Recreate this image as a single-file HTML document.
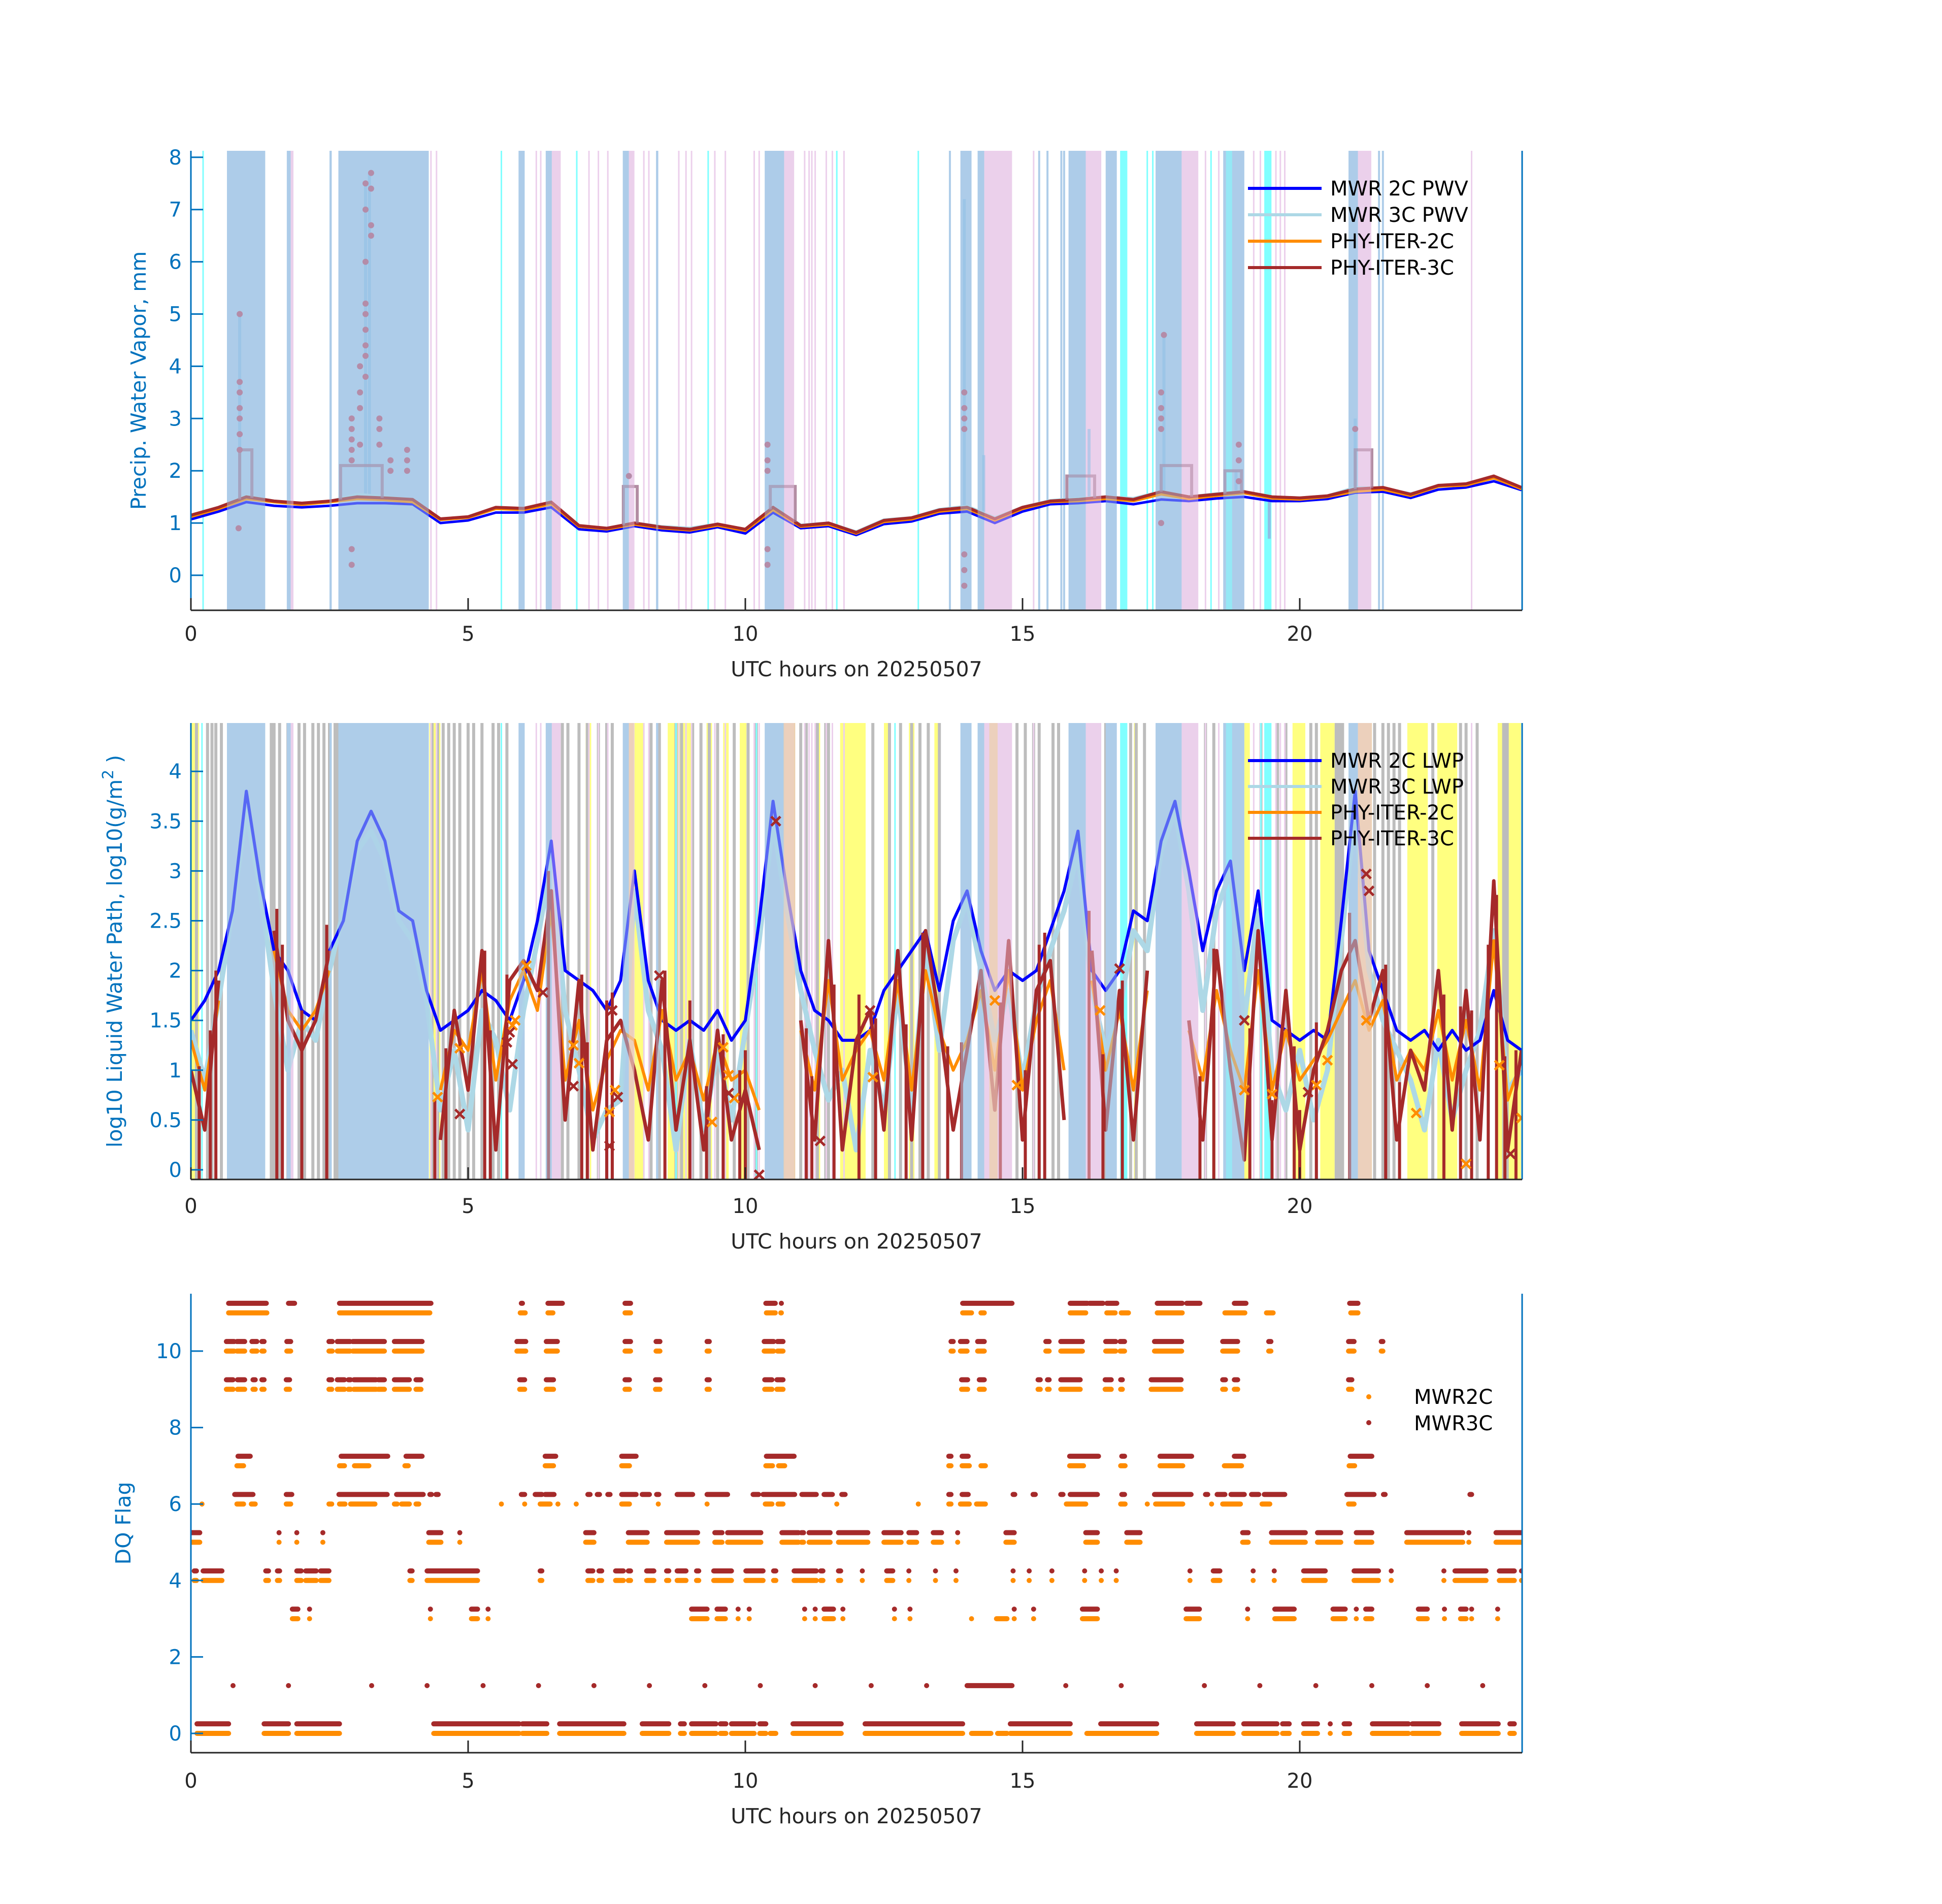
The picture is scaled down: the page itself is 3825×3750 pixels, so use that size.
<!DOCTYPE html>
<html>
<head>
<meta charset="utf-8">
<title>MWR PWV / LWP / DQ Flag 20250507</title>
<style>
  html, body { margin:0; padding:0; background:#ffffff; }
  svg { display:block; }
  text { font-family: "DejaVu Sans", "Liberation Sans", sans-serif; }
</style>
</head>
<body>
<svg id="fig" xmlns="http://www.w3.org/2000/svg" width="3825" height="3750" viewBox="0 0 3825 3750">
  <defs>
    <clipPath id="clip1"><rect x="376" y="297" width="2622" height="905"/></clipPath>
    <clipPath id="clip2"><rect x="376" y="1424" width="2622" height="899"/></clipPath>
    <clipPath id="clip3"><rect x="376" y="2548" width="2622" height="904"/></clipPath>
  </defs>
  <rect x="0" y="0" width="3825" height="3750" fill="#ffffff"/>
  <g id="p1"></g>
  <g id="p2"></g>
  <g id="p3"></g>
</svg>
<script>
// ================= DATA =================
// ---- Panel 1 : PWV (0.5 h grid) ----
const pwvHours = [0,0.5,1,1.5,2,2.5,3,3.5,4,4.5,5,5.5,6,6.5,7,7.5,8,8.5,9,9.5,10,10.5,11,11.5,12,12.5,13,13.5,14,14.5,15,15.5,16,16.5,17,17.5,18,18.5,19,19.5,20,20.5,21,21.5,22,22.5,23,23.5,24];
const pwvMwr2C = [1.07,1.22,1.4,1.33,1.3,1.33,1.38,1.38,1.36,1.0,1.05,1.2,1.2,1.3,0.88,0.84,0.94,0.86,0.82,0.92,0.8,1.2,0.9,0.94,0.77,0.98,1.03,1.18,1.22,1.0,1.22,1.36,1.38,1.42,1.36,1.45,1.42,1.47,1.5,1.42,1.42,1.46,1.58,1.6,1.48,1.64,1.68,1.8,1.63];
const pwvMwr3C = [1.13,1.28,1.52,1.42,1.37,1.41,1.55,1.5,1.45,1.06,1.12,1.28,1.27,1.38,0.94,0.9,1.0,0.93,0.9,0.98,0.87,1.3,0.96,1.0,0.83,1.06,1.1,1.26,1.32,1.1,1.3,1.43,1.47,1.5,1.47,1.6,1.5,1.56,1.6,1.5,1.48,1.52,1.68,1.66,1.56,1.7,1.74,1.86,1.67];
const pwvPhy2C = [1.12,1.27,1.46,1.4,1.35,1.4,1.46,1.44,1.4,1.06,1.1,1.27,1.25,1.36,0.93,0.88,0.97,0.9,0.86,0.95,0.85,1.25,0.93,0.97,0.8,1.02,1.07,1.22,1.27,1.05,1.27,1.4,1.42,1.46,1.42,1.55,1.46,1.52,1.57,1.47,1.45,1.5,1.6,1.64,1.52,1.7,1.72,1.86,1.65];
const pwvPhy3C = [1.15,1.3,1.5,1.42,1.38,1.42,1.5,1.48,1.45,1.08,1.12,1.3,1.28,1.4,0.95,0.9,1.0,0.92,0.88,0.98,0.88,1.3,0.95,1.0,0.82,1.05,1.1,1.25,1.3,1.08,1.3,1.42,1.45,1.5,1.45,1.6,1.5,1.55,1.6,1.5,1.48,1.52,1.65,1.68,1.55,1.72,1.75,1.9,1.68];
const pwvSpikeHours = [0.88,3.15,3.22,13.95,14.3,16.2,17.55,18.85,21.0,19.45];
const pwvSpikeValues = [5.0,7.5,7.7,7.2,2.3,2.8,4.6,2.0,3.0,0.7];
const pwvDotHours = [0.88,0.88,0.88,0.88,0.88,0.88,0.88,0.86,2.9,2.9,2.9,2.9,2.9,2.9,2.9,3.05,3.05,3.05,3.05,3.15,3.15,3.15,3.15,3.15,3.15,3.15,3.15,3.15,3.25,3.25,3.25,3.25,3.4,3.4,3.4,3.6,3.6,3.9,3.9,3.9,7.9,10.4,10.4,10.4,10.4,10.4,13.95,13.95,13.95,13.95,13.95,13.95,13.95,17.5,17.5,17.5,17.5,17.5,17.55,18.9,18.9,18.9,21.0];
const pwvDotValues = [5.0,3.7,3.5,3.2,3.0,2.7,2.4,0.9,3.0,2.8,2.6,2.4,2.2,0.5,0.2,4.0,3.5,3.2,2.5,5.2,5.0,4.7,4.4,4.2,3.8,7.5,7.0,6.0,7.7,7.4,6.7,6.5,3.0,2.8,2.5,2.2,2.0,2.4,2.2,2.0,1.9,2.5,2.2,2.0,0.5,0.2,3.5,3.2,3.0,2.8,-0.2,0.1,0.4,3.5,3.2,3.0,2.8,1.0,4.6,2.5,2.2,1.8,2.8];
const pwvStepStart = [0.88,2.7,7.8,10.45,15.8,17.5,18.65,21.0];
const pwvStepEnd = [1.1,3.45,8.05,10.9,16.3,18.05,18.95,21.3];
const pwvStepValues = [2.4,2.1,1.7,1.7,1.9,2.1,2.0,2.4];
// shading (hours)
const p1BlueBands = [[0.65,1.34],[1.73,1.8],[2.5,2.54],[2.66,4.29],[5.91,6.02],[6.4,6.51],[7.79,7.9],[8.39,8.43],[10.35,10.7],[13.88,14.08],[14.19,14.31],[15.83,16.14],[16.5,16.7],[17.4,17.87],[18.62,19.0],[20.88,21.05]];
const p1PinkBands = [[1.8,1.85],[6.51,6.67],[7.9,8.0],[10.7,10.88],[14.31,14.81],[16.14,16.42],[17.87,18.17],[21.05,21.29]];
const p1CyanBands = [[16.76,16.89],[18.67,18.78],[19.36,19.49]];
const p1PinkLines = [4.33,4.43,6.23,6.31,7.18,7.35,7.52,8.17,8.26,8.8,8.93,9.03,9.45,9.64,10.16,10.25,11.07,11.15,11.2,11.26,11.46,11.57,11.78,15.2,18.3,18.54,19.17,19.29,19.57,19.65,19.73,23.1];
const p1CyanLines = [0.22,5.6,6.0,6.96,9.33,11.65,13.12,16.55,17.25,17.35,18.4];
const p1BlueLines = [13.69,15.3,15.45,15.7,15.75,21.43,21.5];

// ---- Panel 2 : LWP (0.25 h grid) ----
const lwpHours = [];
for (let i = 0; i <= 96; i++) lwpHours.push(i * 0.25);
const lwpMwr2C = [1.5,1.7,2.0,2.6,3.8,2.9,2.2,2.0,1.6,1.5,2.2,2.5,3.3,3.6,3.3,2.6,2.5,1.8,1.4,1.5,1.6,1.8,1.7,1.5,1.9,2.5,3.3,2.0,1.9,1.8,1.6,1.9,3.0,1.9,1.5,1.4,1.5,1.4,1.6,1.3,1.5,2.5,3.7,2.8,2.0,1.6,1.5,1.3,1.3,1.4,1.8,2.0,2.2,2.4,1.8,2.5,2.8,2.2,1.8,2.0,1.9,2.0,2.4,2.8,3.4,2.0,1.8,2.0,2.6,2.5,3.3,3.7,3.0,2.2,2.8,3.1,2.0,2.8,1.5,1.4,1.3,1.4,1.3,2.5,3.8,2.2,1.8,1.4,1.3,1.4,1.2,1.4,1.2,1.3,1.8,1.3,1.2];
const lwpMwr3C = [1.4,0.9,1.7,2.6,3.6,2.8,1.8,1.0,1.5,1.3,2.0,2.6,3.2,3.4,3.1,2.5,2.3,1.7,0.6,1.2,0.4,1.6,1.3,0.6,1.6,2.3,3.1,1.6,1.0,0.3,0.6,0.7,2.8,1.6,1.2,0.2,1.3,0.4,1.2,0.5,1.4,2.3,3.5,2.6,1.8,1.2,0.7,1.0,0.2,1.2,0.6,1.8,0.6,2.2,1.2,2.3,2.7,2.0,1.3,1.8,0.9,1.7,2.2,2.6,3.2,1.8,1.2,1.6,2.4,2.2,3.2,3.6,2.8,1.6,2.6,3.0,1.5,2.6,1.0,0.6,1.2,0.5,1.0,2.3,3.6,2.0,1.5,1.2,0.9,0.4,1.3,0.5,1.0,1.4,2.4,0.8,1.0];
const lwpPhy2C = [1.3,0.8,1.7,null,null,null,2.2,1.6,1.4,1.6,2.0,null,null,null,null,null,null,null,0.8,1.4,1.2,2.0,0.9,1.7,2.0,1.6,2.6,0.9,1.5,0.6,1.1,1.4,1.3,0.8,1.6,0.9,1.2,0.7,1.3,0.9,1.0,0.6,null,null,1.4,0.8,1.9,0.9,1.2,1.4,0.9,1.9,0.8,2.0,1.4,1.0,1.3,1.8,1.0,2.0,0.8,1.5,1.9,1.0,null,1.9,1.0,1.6,0.8,1.8,null,null,1.4,0.9,1.8,1.2,0.8,2.0,0.8,1.4,0.9,1.1,1.3,1.6,1.9,1.4,1.7,0.9,1.2,1.0,1.6,0.9,1.5,0.8,2.3,0.7,1.1];
const lwpPhy3C = [1.0,0.4,1.9,null,null,null,2.4,1.5,1.2,1.5,2.2,null,null,null,null,null,null,null,0.3,1.6,0.8,2.2,0.2,1.9,2.1,1.8,2.8,0.5,1.9,0.2,1.3,1.5,1.0,0.3,1.9,0.4,1.3,0.2,1.4,0.3,0.8,0.2,null,null,1.5,0.3,2.3,0.2,1.3,1.6,0.4,2.2,0.3,2.4,1.5,0.4,1.2,2.0,0.6,2.3,0.3,1.8,2.1,0.5,null,2.2,0.4,1.8,0.3,2.0,null,null,1.5,0.3,2.2,1.0,0.1,2.4,0.3,1.8,0.2,1.0,1.4,2.0,2.3,1.5,2.0,0.3,1.2,0.8,2.0,0.4,1.8,0.3,2.9,0.2,1.2];
const lwpDropHours = [0.15,0.35,0.45,1.55,1.65,2.0,2.45,4.4,4.6,5.3,5.4,5.7,6.45,7.05,7.15,7.5,7.6,8.55,9.0,9.3,9.6,9.9,10.0,11.1,11.2,11.6,12.05,12.35,12.9,13.2,13.65,13.9,14.6,15.05,15.3,15.4,16.2,16.45,16.8,18.2,18.45,19.1,19.5,19.9,20.0,20.3,20.9,21.55,21.8,22.6,22.9,23.1,23.4,23.55,23.7,23.9];
const lwpCrossOrangeHours = [4.45,4.85,5.8,5.85,6.05,6.9,7.0,7.55,7.65,9.4,9.6,9.7,9.8,12.3,14.5,14.9,16.4,19.0,19.5,20.3,20.5,21.2,22.1,23.0,23.6,24.0];
const lwpCrossOrangeValues = [0.73,1.22,1.45,1.5,2.05,1.25,1.07,0.58,0.8,0.48,1.23,0.95,0.72,0.93,1.7,0.85,1.6,0.8,0.76,0.85,1.1,1.5,0.57,0.06,1.05,0.52];
const lwpCrossBrownHours = [4.85,5.7,5.75,5.8,6.35,6.9,7.55,7.6,7.7,8.45,9.7,10.25,10.55,11.35,12.25,16.75,19.0,20.15,21.2,21.25,23.8];
const lwpCrossBrownValues = [0.56,1.28,1.38,1.06,1.78,0.84,0.24,1.6,0.73,1.95,0.77,-0.05,3.5,0.29,1.6,2.02,1.5,0.78,2.97,2.8,0.16];
const p2YellowBands = [[0,0.15],[4.3,4.5],[7.12,7.22],[7.99,8.16],[8.6,9.02],[9.3,9.4],[9.6,9.7],[9.9,10.02],[11.25,11.35],[11.71,12.17],[12.5,12.6],[12.95,13.05],[13.41,13.51],[14.6,14.7],[17.01,17.08],[19.0,19.1],[19.87,20.1],[20.37,20.63],[21.94,22.31],[22.48,22.84],[23.57,23.99]];
const p2TanBands = [[7.9,7.99],[10.69,10.9],[14.4,14.55],[21.05,21.3]];
const p2GrayBands = [[20.63,20.8],[23.65,23.77]];
const p2GrayLines = [0.1,0.3,0.45,0.55,1.5,1.6,1.75,1.95,2.05,2.2,2.4,2.5,2.6,2.65,4.35,4.55,4.65,4.75,4.85,5.0,5.1,5.25,5.55,5.7,6.55,6.8,7.15,7.35,7.5,7.6,8.3,8.75,8.85,9.05,9.35,9.5,9.8,10.05,10.2,11.0,11.1,11.5,12.6,12.8,13.0,13.3,13.5,14.65,14.9,15.05,15.2,15.55,15.65,16.35,16.5,16.95,17.05,18.3,18.45,19.3,19.6,19.75,20.2,20.3,21.35,21.5,21.6,21.7,22.4,22.9,23.0,23.2,0.38,1.45,2.3,4.45,5.45,6.7,7.0,8.45,9.2,11.3,11.45,12.3,13.15,15.3,17.2,19.45,21.8];
const p2CyanLines = [0.2,5.6,8.75,10.2,12.7,16.8,18.7,19.3,19.45];

// ---- Panel 3 : DQ flag segments [start,end] hours ----
const flag11Mwr3C = [[0.68,1.36],[1.76,1.87],[2.68,4.33],[5.96,5.98],[6.44,6.7],[7.83,7.93],[10.37,10.54],[10.65,10.65],[13.92,14.81],[15.86,16.17],[16.21,16.45],[16.52,16.7],[17.43,17.88],[17.96,18.2],[18.82,19.03],[20.9,21.05]];
const flag11Mwr2C = [[0.68,1.37],[2.68,4.31],[5.94,6.03],[6.44,6.53],[7.83,7.93],[10.38,10.54],[10.64,10.65],[13.92,14.08],[14.25,14.31],[15.86,16.14],[16.52,16.67],[16.78,16.91],[17.43,17.88],[18.65,19.01],[19.4,19.52],[20.92,21.05]];
const flag10Both = [[0.64,0.78],[0.83,0.97],[1.1,1.19],[1.28,1.32],[1.73,1.8],[2.49,2.55],[2.64,2.87],[2.92,3.49],[3.67,4.17],[5.88,6.04],[6.41,6.61],[7.83,7.93],[8.39,8.46],[9.31,9.35],[10.34,10.51],[10.58,10.68],[13.71,13.75],[13.88,14.0],[14.19,14.31],[15.42,15.48],[15.69,16.08],[16.5,16.68],[16.76,16.84],[17.38,17.87],[18.61,18.88],[19.44,19.48],[20.88,20.98],[21.47,21.5]];
const flag9Both = [[0.64,0.76],[0.84,0.97],[1.12,1.16],[1.28,1.32],[1.72,1.78],[2.49,2.54],[2.64,2.77],[2.84,2.88],[2.94,3.34],[3.38,3.49],[3.67,3.94],[4.06,4.15],[5.93,6.02],[6.41,6.54],[7.83,7.91],[8.38,8.46],[9.31,9.35],[10.35,10.48],[10.57,10.68],[13.9,14.01],[14.22,14.31],[15.28,15.32],[15.45,15.48],[15.69,16.04],[16.49,16.6],[16.77,16.8],[17.32,17.86],[18.61,18.66],[18.82,18.88],[20.88,20.94]];
const flag7Mwr3C = [[0.85,1.07],[2.71,3.55],[3.88,4.17],[6.39,6.58],[7.77,8.03],[10.38,10.88],[13.67,13.71],[13.91,14.02],[15.85,16.37],[16.79,16.84],[17.48,18.05],[18.82,18.99],[20.91,21.3]];
const flag7Mwr2C = [[0.83,0.95],[2.68,2.77],[2.95,3.21],[3.86,3.92],[6.39,6.54],[7.77,7.91],[10.37,10.49],[10.6,10.71],[13.67,13.71],[13.91,14.04],[14.25,14.33],[15.85,16.1],[16.77,16.85],[17.48,17.89],[18.64,18.95],[20.89,20.99]];
const flag6Mwr3C = [[0.79,1.12],[1.72,1.82],[2.67,3.54],[3.71,4.19],[4.31,4.34],[4.42,4.46],[5.96,6.02],[6.21,6.33],[6.39,6.55],[7.16,7.2],[7.33,7.37],[7.52,7.56],[7.77,8.03],[8.14,8.27],[8.4,8.44],[8.77,9.05],[9.31,9.68],[10.14,10.24],[10.32,10.89],[11.02,11.28],[11.42,11.57],[11.74,11.8],[13.67,13.71],[13.91,14.02],[14.83,14.86],[15.19,15.23],[15.69,15.73],[15.86,16.35],[16.79,16.84],[17.38,18.04],[18.3,18.34],[18.51,18.65],[18.76,19.0],[19.13,19.26],[19.36,19.73],[20.85,21.34],[21.51,21.54],[23.07,23.1]];
const flag6Mwr2C = [[0.2,0.2],[0.83,0.95],[1.09,1.16],[1.72,1.8],[2.49,2.54],[2.68,2.78],[2.88,3.32],[3.67,3.72],[3.8,3.94],[4.06,4.11],[5.6,5.6],[6.02,6.02],[6.3,6.48],[6.62,6.62],[6.95,6.95],[7.77,7.91],[8.43,8.43],[9.31,9.31],[10.36,10.48],[10.59,10.68],[11.65,11.65],[13.12,13.12],[13.67,13.71],[13.88,14.04],[14.17,14.33],[15.79,16.14],[16.77,16.85],[17.25,17.25],[17.4,17.89],[18.41,18.41],[18.61,18.93],[19.32,19.46],[20.88,20.98]];
const flag5Both = [[0.01,0.16],[1.59,1.59],[1.91,1.91],[2.38,2.38],[4.29,4.51],[4.85,4.85],[7.12,7.27],[7.89,8.23],[8.58,9.14],[9.45,9.58],[9.68,10.28],[10.66,10.96],[11.01,11.05],[11.15,11.53],[11.68,12.21],[12.5,12.81],[12.95,13.09],[13.39,13.54],[13.83,13.83],[14.7,14.85],[16.14,16.35],[16.88,17.12],[18.97,19.07],[19.49,20.1],[20.32,20.74],[21.02,21.3],[21.93,22.94],[23.05,23.05],[23.54,24.0]];
const flag4Both = [[0.06,0.1],[0.22,0.56],[1.35,1.4],[1.56,1.6],[1.91,1.99],[2.07,2.26],[2.34,2.49],[3.95,3.99],[4.26,5.17],[6.3,6.33],[7.16,7.25],[7.36,7.41],[7.66,7.8],[7.89,7.93],[8.22,8.35],[8.58,8.62],[8.77,8.93],[9.12,9.16],[9.43,9.75],[10.01,10.32],[10.51,10.55],[10.88,11.28],[11.36,11.4],[11.68,11.72],[12.11,12.11],[12.55,12.66],[12.95,12.95],[13.43,13.43],[13.8,13.8],[14.83,14.83],[15.12,15.12],[15.53,15.53],[16.12,16.12],[16.42,16.42],[16.69,16.69],[18.02,18.02],[18.44,18.56],[19.16,19.16],[19.54,19.54],[20.07,20.46],[20.98,21.42],[21.65,21.65],[22.6,22.6],[22.8,23.36],[23.6,23.87],[24.0,24.0]];
const flag3Both = [[1.83,1.93],[2.14,2.14],[4.32,4.32],[5.06,5.17],[5.36,5.36],[9.03,9.31],[9.49,9.64],[9.87,9.87],[10.07,10.07],[11.07,11.07],[11.26,11.26],[11.42,11.59],[11.76,11.76],[12.69,12.69],[12.97,12.97],[14.85,14.85],[15.2,15.2],[16.08,16.35],[17.95,18.19],[19.06,19.06],[19.55,19.9],[20.6,20.82],[21.02,21.02],[21.19,21.3],[22.14,22.3],[22.61,22.61],[22.9,23.0],[23.1,23.1],[23.57,23.57]];
const flag3Extra2C = [[14.08,14.08],[14.53,14.72]];
const flag1Mwr3C = [[0.76,0.76],[1.76,1.76],[3.26,3.26],[4.26,4.26],[5.27,5.27],[6.27,6.27],[7.27,7.27],[8.27,8.27],[9.27,9.27],[10.27,10.27],[11.26,11.26],[12.27,12.27],[13.27,13.27],[14.0,14.81],[15.78,15.78],[16.78,16.78],[18.28,18.28],[19.28,19.28],[20.29,20.29],[21.3,21.3],[22.3,22.3],[23.3,23.3]];
const flag0Both = [[0.11,0.68],[1.32,1.76],[1.91,2.68],[4.38,5.92],[5.98,6.42],[6.65,7.81],[8.14,8.62],[8.83,8.9],[9.03,9.47],[9.55,9.65],[9.75,10.16],[10.26,10.37],[10.86,11.73],[12.16,13.92],[14.78,15.86],[16.41,17.42],[18.14,18.8],[18.99,19.59],[19.69,19.81],[20.07,20.32],[20.55,20.55],[20.8,20.9],[21.31,21.96],[22.03,22.51],[22.92,23.58],[23.79,23.87]];
const flag0Extra2C = [[10.45,10.55],[14.08,14.43],[14.55,14.72],[16.16,16.52]];

// tick labels
const p1YTicks = [0,1,2,3,4,5,6,7,8];
const p2YTicks = [0,0.5,1,1.5,2,2.5,3,3.5,4];
const p2YTickLabels = ["0","0.5","1","1.5","2","2.5","3","3.5","4"];
const p3YTicks = [0,2,4,6,8,10];
const xTicks = [0,5,10,15,20];

// ================= AXES / HELPERS =================
const NS = "http://www.w3.org/2000/svg";
const X0 = 376, XS = 109.2;
function xs(h){ return X0 + h * XS; }
function y1(v){ return 1133 - v * 102.9; }
function y2(v){ return 2304 - v * 196.2; }
function y3(v){ return 3414 - v * 75.3; }
function mk(tag, attrs, parent){
  const el = document.createElementNS(NS, tag);
  for (const k in attrs) el.setAttribute(k, attrs[k]);
  parent.appendChild(el);
  return el;
}
function interp(hours, vals, h){
  for (let i = 0; i < hours.length - 1; i++){
    if (h >= hours[i] && h <= hours[i+1]){
      const a = vals[i], b = vals[i+1];
      if (a === null || b === null) return (a === null ? b : a);
      const t = (h - hours[i]) / (hours[i+1] - hours[i]);
      return a + t * (b - a);
    }
  }
  return vals[vals.length-1];
}
function pathFrom(hours, vals, yf){
  let d = "", pen = false;
  for (let i = 0; i < hours.length; i++){
    const v = vals[i];
    if (v === null || v === undefined){ pen = false; continue; }
    d += (pen ? "L" : "M") + xs(hours[i]).toFixed(1) + "," + yf(v).toFixed(1);
    pen = true;
  }
  return d;
}
function drawBands(g, bands, color, top, bot, opacity, name){
  bands.forEach(function(b){
    const x0 = xs(b[0]), x1 = xs(b[1]);
    const r = mk("rect", {x:x0, y:top, width:Math.max(x1-x0, 4), height:bot-top, fill:color, "fill-opacity":opacity}, g);
    
    
  });
}
function drawVLines(g, hours, color, top, bot, w, name){
  hours.forEach(function(h){
    const l = mk("line", {x1:xs(h), x2:xs(h), y1:top, y2:bot, stroke:color, "stroke-width":w}, g);
    
    
  });
}
function drawAxes(g, top, bot, yf, yticks, ylabels, ylabelText, ylabelX, xlabelY, tickLabelY){
  const left = mk("line", {x1:X0, x2:X0, y1:top, y2:bot, stroke:"#0072BD", "stroke-width":3}, g);
  
  
  const right = mk("line", {x1:2998, x2:2998, y1:top, y2:bot, stroke:"#0072BD", "stroke-width":3}, g);
  
  
  const bottom = mk("line", {x1:X0, x2:2998, y1:bot, y2:bot, stroke:"#262626", "stroke-width":3}, g);
  
  
  yticks.forEach(function(v, i){
    const t = mk("line", {x1:X0, x2:X0+24, y1:yf(v), y2:yf(v), stroke:"#0072BD", "stroke-width":3}, g);
    
    
    const tx = mk("text", {x:358, y:yf(v)+14, "text-anchor":"end", "font-size":40, fill:"#0072BD"}, g);
    tx.textContent = ylabels[i];
    
    
  });
  xTicks.forEach(function(h){
    const t = mk("line", {x1:xs(h), x2:xs(h), y1:bot, y2:bot-24, stroke:"#262626", "stroke-width":3}, g);
    
    
    const tx = mk("text", {x:xs(h), y:tickLabelY, "text-anchor":"middle", "font-size":40, fill:"#262626"}, g);
    tx.textContent = String(h);
    
    
  });
  const xl = mk("text", {x:1687, y:xlabelY, "text-anchor":"middle", "font-size":41, fill:"#262626"}, g);
  xl.textContent = "UTC hours on 20250507";
  
  
  const cy = (top + bot) / 2;
  const yl = mk("text", {x:ylabelX, y:cy, "text-anchor":"middle", "font-size":41, fill:"#0072BD", transform:"rotate(-90 " + ylabelX + " " + cy + ")"}, g);
  
  
  if (typeof ylabelText === "string"){ yl.textContent = ylabelText; }
  else {
    yl.appendChild(document.createTextNode(ylabelText[0]));
    const sup = mk("tspan", {"baseline-shift":"super", "font-size":30}, yl);
    sup.textContent = ylabelText[1];
    const rest = mk("tspan", {}, yl);
    rest.textContent = ylabelText[2];
  }
}
function drawLegend(g, entries, colors, y0, dy){
  entries.forEach(function(lbl, i){
    const y = y0 + i * dy;
    const l = mk("line", {x1:2458, x2:2603, y1:y, y2:y, stroke:colors[i], "stroke-width":6}, g);
    
    
    const t = mk("text", {x:2620, y:y+14, "font-size":40, fill:"#000"}, g);
    t.textContent = lbl;
    
    
  });
}
function drawCrosses(g, hours, vals, yf, color, name){
  hours.forEach(function(h, i){
    const x = xs(h), y = yf(vals[i]), s = 9;
    const p = mk("path", {d:"M"+(x-s)+","+(y-s)+"L"+(x+s)+","+(y+s)+"M"+(x-s)+","+(y+s)+"L"+(x+s)+","+(y-s), stroke:color, "stroke-width":5, fill:"none"}, g);
    
    
  });
}

// ================= PANEL 1 =================
(function(){
  const g = document.getElementById("p1");
  const T = 297, B = 1202;
  const c = mk("g", {"clip-path":"url(#clip1)"}, g);
  
  
  drawVLines(c, p1PinkLines, "#ecd0ec", T, B, 3, 'pink-flag-line');
  drawVLines(c, p1CyanLines, "#80ffff", T, B, 3, 'cyan-flag-line');
  drawVLines(c, p1BlueLines, "#aecde9", T, B, 4, 'blue-flag-line');
  drawBands(c, p1BlueBands, "#aecde9", T, B, 1, 'rain-flag-band');
  drawBands(c, p1PinkBands, "#ecd0ec", T, B, 1, 'pink-flag-band');
  drawBands(c, p1CyanBands, "#80ffff", T, B, 1, 'cyan-flag-band');
  pwvSpikeHours.forEach(function(h, i){
    const base = interp(pwvHours, pwvMwr3C, h);
    const l = mk("line", {x1:xs(h), x2:xs(h), y1:y1(base), y2:y1(pwvSpikeValues[i]), stroke:"#8fc0e6", "stroke-width":6}, c);
    
    
  });
  const series = [[pwvMwr2C,"#0000ff",5,'mwr-2c-pwv-line'],[pwvMwr3C,"#add8e6",6,'mwr-3c-pwv-line'],[pwvPhy2C,"#ff8c00",5,'phy-iter-2c-line'],[pwvPhy3C,"#a52a2a",6,'phy-iter-3c-line']];
  series.forEach(function(s){
    const p = mk("path", {d:pathFrom(pwvHours, s[0], y1), stroke:s[1], "stroke-width":s[2], fill:"none", "stroke-linejoin":"round"}, c);
    
    
  });
  pwvStepStart.forEach(function(h0, i){
    const h1 = pwvStepEnd[i];
    const b0 = interp(pwvHours, pwvPhy3C, h0), b1 = interp(pwvHours, pwvPhy3C, h1);
    const d = "M"+xs(h0)+","+y1(b0)+"L"+xs(h0)+","+y1(pwvStepValues[i])+"L"+xs(h1)+","+y1(pwvStepValues[i])+"L"+xs(h1)+","+y1(b1);
    const p = mk("path", {d:d, stroke:"#a0708c", "stroke-width":6, fill:"none", "stroke-opacity":0.8}, c);
    
    
  });
  drawBands(c, p1BlueBands, "#aecde9", T, B, 0.45, 'rain-flag-overlay');
  drawBands(c, p1PinkBands, "#ecd0ec", T, B, 0.45, 'pink-flag-overlay');
  pwvDotHours.forEach(function(h, i){
    const d = mk("circle", {cx:xs(h), cy:y1(pwvDotValues[i]), r:6, fill:"#b48ca8"}, c);
    
    
  });
  drawAxes(g, T, B, y1, p1YTicks, p1YTicks.map(String), "Precip. Water Vapor, mm", 287, 1332, 1262);
  drawLegend(g, ["MWR 2C PWV","MWR 3C PWV","PHY-ITER-2C","PHY-ITER-3C"], ["#0000ff","#add8e6","#ff8c00","#a52a2a"], 371, 52);
})();

// ================= PANEL 2 =================
(function(){
  const g = document.getElementById("p2");
  const T = 1424, B = 2323;
  const c = mk("g", {"clip-path":"url(#clip2)"}, g);
  
  
  drawBands(c, p2YellowBands, "#ffff80", T, B, 1, 'yellow-flag-band');
  drawVLines(c, p2GrayLines, "#bdbdbd", T, B, 6, 'gray-flag-line');
  drawBands(c, p2GrayBands, "#bdbdbd", T, B, 1, 'gray-flag-band');
  drawVLines(c, p1PinkLines, "#ecd0ec", T, B, 3, 'pink-flag-line');
  drawVLines(c, p2CyanLines, "#80ffff", T, B, 3, 'cyan-flag-line');
  drawBands(c, p1BlueBands, "#aecde9", T, B, 1, 'rain-flag-band');
  drawBands(c, p1PinkBands, "#ecd0ec", T, B, 1, 'pink-flag-band');
  drawBands(c, p1CyanBands, "#80ffff", T, B, 1, 'cyan-flag-band');
  drawBands(c, p2TanBands, "#edd0ac", T, B, 1, 'tan-flag-band');
  const p3c = mk("path", {d:pathFrom(lwpHours, lwpMwr3C, y2), stroke:"#add8e6", "stroke-width":10, fill:"none", "stroke-linejoin":"round"}, c);
  
  
  const p2c = mk("path", {d:pathFrom(lwpHours, lwpMwr2C, y2), stroke:"#0000ff", "stroke-width":6, fill:"none", "stroke-linejoin":"round"}, c);
  
  
  const po = mk("path", {d:pathFrom(lwpHours, lwpPhy2C, y2), stroke:"#ff8c00", "stroke-width":6, fill:"none", "stroke-linejoin":"round"}, c);
  
  
  lwpDropHours.forEach(function(h){
    const top = interp(lwpHours, lwpPhy3C, h);
    const l = mk("line", {x1:xs(h), x2:xs(h), y1:y2(top === null ? 1 : top + 0.4), y2:B+5, stroke:"#a52a2a", "stroke-width":6}, c);
    
    
  });
  const pb = mk("path", {d:pathFrom(lwpHours, lwpPhy3C, y2), stroke:"#a52a2a", "stroke-width":7, fill:"none", "stroke-linejoin":"round"}, c);
  
  
  drawBands(c, p1BlueBands, "#aecde9", T, B, 0.5, 'rain-flag-overlay');
  drawBands(c, p1PinkBands, "#ecd0ec", T, B, 0.45, 'pink-flag-overlay');
  drawBands(c, p2TanBands, "#edd0ac", T, B, 0.45, 'tan-flag-overlay');
  drawCrosses(c, lwpCrossOrangeHours, lwpCrossOrangeValues, y2, "#ff8c00", 'phy-2c-cross-marker');
  drawCrosses(c, lwpCrossBrownHours, lwpCrossBrownValues, y2, "#a52a2a", 'phy-3c-cross-marker');
  drawAxes(g, T, B, y2, p2YTicks, p2YTickLabels, ["log10 Liquid Water Path, log10(g/m", "2", " )"], 240, 2459, 2389);
  drawLegend(g, ["MWR 2C LWP","MWR 3C LWP","PHY-ITER-2C","PHY-ITER-3C"], ["#0000ff","#add8e6","#ff8c00","#a52a2a"], 1498, 51);
})();

// ================= PANEL 3 =================
(function(){
  const g = document.getElementById("p3");
  const T = 2548, B = 3452;
  const c = mk("g", {"clip-path":"url(#clip3)"}, g);
  
  
  function segs(list, flag, offset, color, name){
    list.forEach(function(s){
      const y = y3(flag + offset);
      const l = mk("line", {x1:xs(s[0]), x2:xs(s[1]), y1:y, y2:y, stroke:color, "stroke-width":10, "stroke-linecap":"round"}, c);
      
      
    });
  }
  const OR = "#ff8c00", BR = "#a52a2a";
  segs(flag11Mwr2C, 11, 0, OR, 'mwr2c-flag-dots');
  segs(flag10Both, 10, 0, OR, 'mwr2c-flag-dots');
  segs(flag9Both, 9, 0, OR, 'mwr2c-flag-dots');
  segs(flag7Mwr2C, 7, 0, OR, 'mwr2c-flag-dots');
  segs(flag6Mwr2C, 6, 0, OR, 'mwr2c-flag-dots');
  segs(flag5Both, 5, 0, OR, 'mwr2c-flag-dots');
  segs(flag4Both, 4, 0, OR, 'mwr2c-flag-dots');
  segs(flag3Both, 3, 0, OR, 'mwr2c-flag-dots');
  segs(flag3Extra2C, 3, 0, OR, 'mwr2c-flag-dots');
  segs(flag0Both, 0, 0, OR, 'mwr2c-flag-dots');
  segs(flag0Extra2C, 0, 0, OR, 'mwr2c-flag-dots');
  segs(flag11Mwr3C, 11, 0.25, BR, 'mwr3c-flag-dots');
  segs(flag10Both, 10, 0.25, BR, 'mwr3c-flag-dots');
  segs(flag9Both, 9, 0.25, BR, 'mwr3c-flag-dots');
  segs(flag7Mwr3C, 7, 0.25, BR, 'mwr3c-flag-dots');
  segs(flag6Mwr3C, 6, 0.25, BR, 'mwr3c-flag-dots');
  segs(flag5Both, 5, 0.25, BR, 'mwr3c-flag-dots');
  segs(flag4Both, 4, 0.25, BR, 'mwr3c-flag-dots');
  segs(flag3Both, 3, 0.25, BR, 'mwr3c-flag-dots');
  segs(flag1Mwr3C, 1, 0.25, BR, 'mwr3c-flag-dots');
  segs(flag0Both, 0, 0.25, BR, 'mwr3c-flag-dots');
  drawAxes(g, T, B, y3, p3YTicks, p3YTicks.map(String), "DQ Flag", 257, 3591, 3521);
  const d1 = mk("circle", {cx:2696, cy:2751, r:5, fill:OR}, g);
  
  
  const t1 = mk("text", {x:2785, y:2765, "font-size":40, fill:"#000"}, g);
  t1.textContent = "MWR2C";
  
  
  const d2 = mk("circle", {cx:2696, cy:2802, r:5, fill:BR}, g);
  
  
  const t2 = mk("text", {x:2785, y:2817, "font-size":40, fill:"#000"}, g);
  t2.textContent = "MWR3C";
  
  
})();
</script>
</body>
</html>
